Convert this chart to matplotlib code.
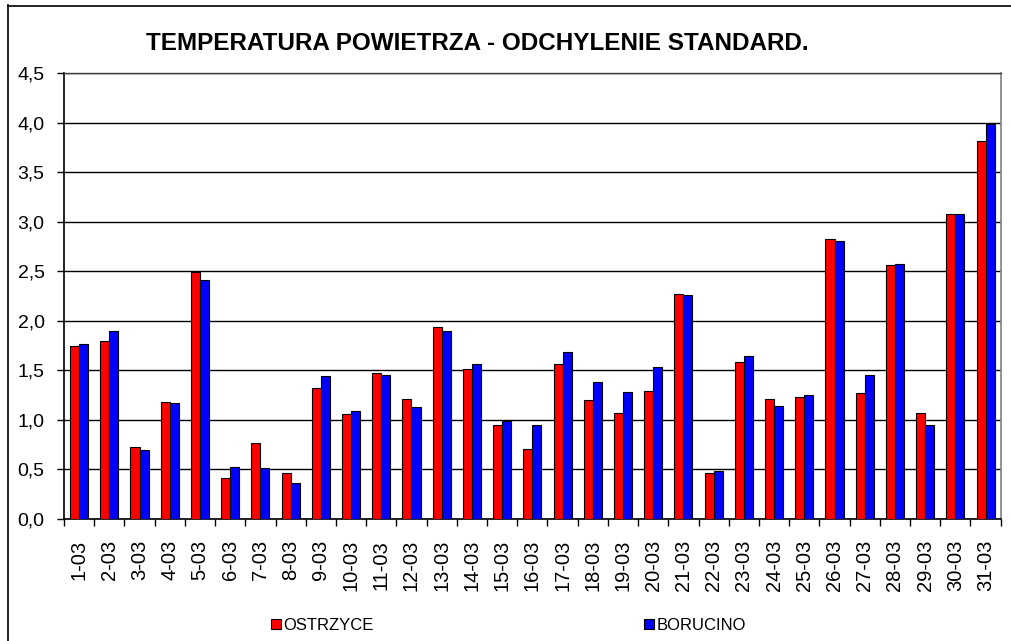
import matplotlib
matplotlib.use("Agg")
import matplotlib.pyplot as plt
import numpy as np
from matplotlib.lines import Line2D
from matplotlib.ticker import FuncFormatter, MultipleLocator

plt.rcParams['font.family'] = ['Liberation Sans', 'DejaVu Sans']

days = [f"{d}-03" for d in range(1, 32)]
ostrzyce = [1.75, 1.80, 0.73, 1.18, 2.49, 0.41, 0.77, 0.46, 1.32, 1.06,
            1.47, 1.21, 1.94, 1.51, 0.95, 0.71, 1.56, 1.20, 1.07, 1.29,
            2.27, 0.46, 1.58, 1.21, 1.23, 2.83, 1.27, 2.56, 1.07, 3.08, 3.81]
borucino = [1.77, 1.90, 0.70, 1.17, 2.41, 0.52, 0.51, 0.36, 1.44, 1.09,
            1.45, 1.13, 1.90, 1.56, 0.99, 0.95, 1.69, 1.38, 1.28, 1.53,
            2.26, 0.48, 1.64, 1.14, 1.25, 2.80, 1.45, 2.57, 0.95, 3.08, 3.99]
series_names = ["OSTRZYCE", "BORUCINO"]
title = "TEMPERATURA POWIETRZA - ODCHYLENIE STANDARD."

W, H = 1011, 641
fig = plt.figure(figsize=(W / 100, H / 100), dpi=100)
ax = fig.add_axes([64 / W, 1 - 519 / H, (1000.7 - 64) / W, (519 - 73) / H])

x = np.arange(len(days))
bw = 0.3
b1 = ax.bar(x - bw / 2, ostrzyce, bw, color='#ff0000', edgecolor='black', linewidth=0.8, zorder=3)
b2 = ax.bar(x + bw / 2, borucino, bw, color='#0000ff', edgecolor='black', linewidth=0.8, zorder=3)

ax.set_xlim(-0.5, len(days) - 0.5)
ax.set_ylim(0, 4.5)
ax.yaxis.set_major_locator(MultipleLocator(0.5))
ax.yaxis.set_major_formatter(FuncFormatter(lambda v, p: f"{v:.1f}".replace('.', ',')))
ax.grid(axis='y', color='black', linewidth=1.0, zorder=0)
ax.set_axisbelow(True)

ax.set_xticks(x)
ax.set_xticklabels(days, rotation=90, fontsize=14.5)
ax.set_xticks(np.arange(-0.5, len(days) + 0.5, 1), minor=True)
ax.tick_params(axis='x', which='major', length=0, pad=15)
ax.tick_params(axis='x', which='minor', length=5, width=1.0, color='black', direction='out')
ax.tick_params(axis='y', length=5, width=1.0, labelsize=14, pad=9)

for s in ['left', 'bottom']:
    ax.spines[s].set_color('black')
    ax.spines[s].set_linewidth(1.2)
ax.spines['top'].set_color('#404040')
ax.spines['top'].set_linewidth(1.0)
ax.spines['right'].set_color('#808080')
ax.spines['right'].set_linewidth(1.2)

fig.text(477 / W, 1 - 43 / H, title, ha='center', va='center',
         fontsize=17.5, fontweight='bold')

leg = fig.legend([b1, b2], series_names, loc='center left', ncol=2,
                 bbox_to_anchor=(271 / W, 1 - 625 / H), frameon=False,
                 fontsize=12, handlelength=0.6, handleheight=0.55,
                 handletextpad=0.15, columnspacing=16.2, borderaxespad=0,
                 borderpad=0)

# chart outer border (left and top edges visible)
fig.add_artist(Line2D([7.5 / W, 7.5 / W], [0, 1 - 5 / H], transform=fig.transFigure,
                      color='black', linewidth=1.2))
fig.add_artist(Line2D([7.5 / W, 1], [1 - 5.5 / H, 1 - 5.5 / H], transform=fig.transFigure,
                      color='black', linewidth=1.2))

fig.savefig("out.png", dpi=100)
